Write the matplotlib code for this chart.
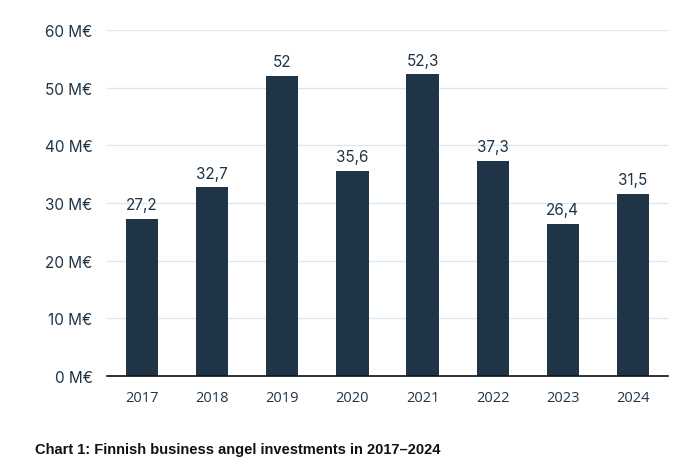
import matplotlib.pyplot as plt

years = ["2017", "2018", "2019", "2020", "2021", "2022", "2023", "2024"]
investments = [27.2, 32.7, 52, 35.6, 52.3, 37.3, 26.4, 31.5]
value_labels = ["27,2", "32,7", "52", "35,6", "52,3", "37,3", "26,4", "31,5"]
y_ticks = [0, 10, 20, 30, 40, 50, 60]

navy = "#1f3447"
grid_col = "#dde7f0"

fig = plt.figure(figsize=(6.98, 4.64), dpi=100)
ax = fig.add_axes([0.1533, 0.1875, 0.8037, 0.7455])

x = range(len(years))
bars = ax.bar(x, investments, width=0.46, color=navy, zorder=3)

for bar, lab in zip(bars, value_labels):
    ax.annotate(lab, (bar.get_x() + bar.get_width() / 2, bar.get_height()),
                xytext=(0, 5), textcoords="offset points", ha="center", va="bottom",
                fontsize=11, color=navy, family="Inter")

ax.set_xlim(-0.5, len(years) - 0.5)
ax.set_ylim(0, 60)
ax.set_yticks(y_ticks)
ax.set_yticklabels([f"{v} M€" for v in y_ticks], fontsize=11, color=navy, family="Inter")
ax.set_xticks(list(x))
ax.set_xticklabels(years, fontsize=10.5, color=navy, family="Open Sans")
ax.tick_params(axis="both", length=0)
ax.tick_params(axis="y", pad=10.5)
ax.tick_params(axis="x", pad=10)

ax.grid(axis="y", color=grid_col, linewidth=1, zorder=0)
for s in ["top", "right", "left"]:
    ax.spines[s].set_visible(False)
ax.spines["bottom"].set_color("#111111")
ax.spines["bottom"].set_linewidth(1.2)
ax.spines["bottom"].set_zorder(4)

fig.text(35 / 698, 1 - 450 / 464, "Chart 1: Finnish business angel investments in 2017\u20132024",
         fontsize=10.5, fontweight="bold", family="Liberation Sans", color="#111111",
         va="center", ha="left")

fig.savefig("out.png", dpi=100)
